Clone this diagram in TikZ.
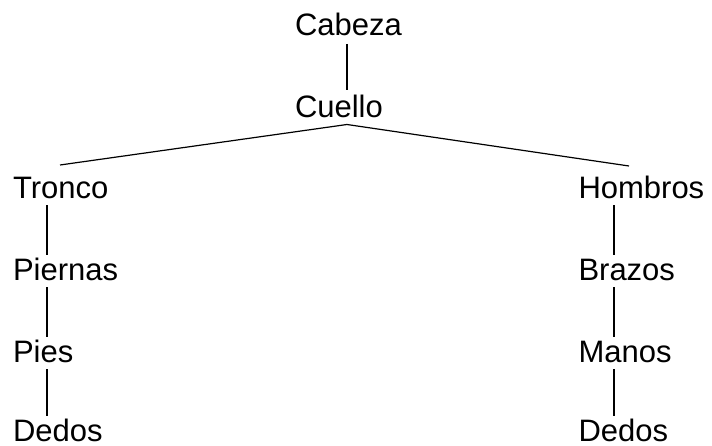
\documentclass[tikz,border=0pt]{standalone}
\usepackage{fontspec}
\setmainfont{Liberation Sans}
\begin{document}
\begin{tikzpicture}[x=1pt,y=-1pt,
  lbl/.style={inner sep=0pt, outer sep=0pt, anchor=base west, font=\fontsize{31}{38}\selectfont},
  conn/.style={line width=1.2pt}]
\useasboundingbox (0,0) rectangle (712,446);
\coordinate (cx) at (347,0);
\coordinate (lx) at (47,0);
\coordinate (rx) at (614,0);
\node[lbl] (cabeza) at (295,36) {Cabeza};
\node[lbl] (cuello) at (295,117.5) {Cuello};
\node[lbl] (tronco) at (13,198.5) {Tronco};
\node[lbl] (piernas) at (13,280.5) {Piernas};
\node[lbl] (pies) at (13,362) {Pies};
\node[lbl] (dedosL) at (13,441) {Dedos};
\node[lbl] (hombros) at (578.5,198.5) {Hombros};
\node[lbl] (brazos) at (578.5,280.5) {Brazos};
\node[lbl] (manos) at (578.5,362) {Manos};
\node[lbl] (dedosR) at (578.5,441) {Dedos};
\coordinate (apex) at ([yshift=-7pt]cuello.base -| cx);
\draw[conn] ([yshift=-8pt]cabeza.base -| cx) -- ([yshift=27.5pt]cuello.base -| cx);
\draw[conn] (apex) -- ([yshift=33.5pt]tronco.base -| 60,0);
\draw[conn] (apex) -- ([yshift=32.5pt]hombros.base -| 629,0);
\foreach \a/\b in {tronco/piernas, piernas/pies, pies/dedosL}
  \draw[conn] ([yshift=-7pt]\a.base -| lx) -- ([yshift=25pt]\b.base -| lx);
\foreach \a/\b in {hombros/brazos, brazos/manos, manos/dedosR}
  \draw[conn] ([yshift=-7pt]\a.base -| rx) -- ([yshift=25pt]\b.base -| rx);
\end{tikzpicture}
\end{document}
